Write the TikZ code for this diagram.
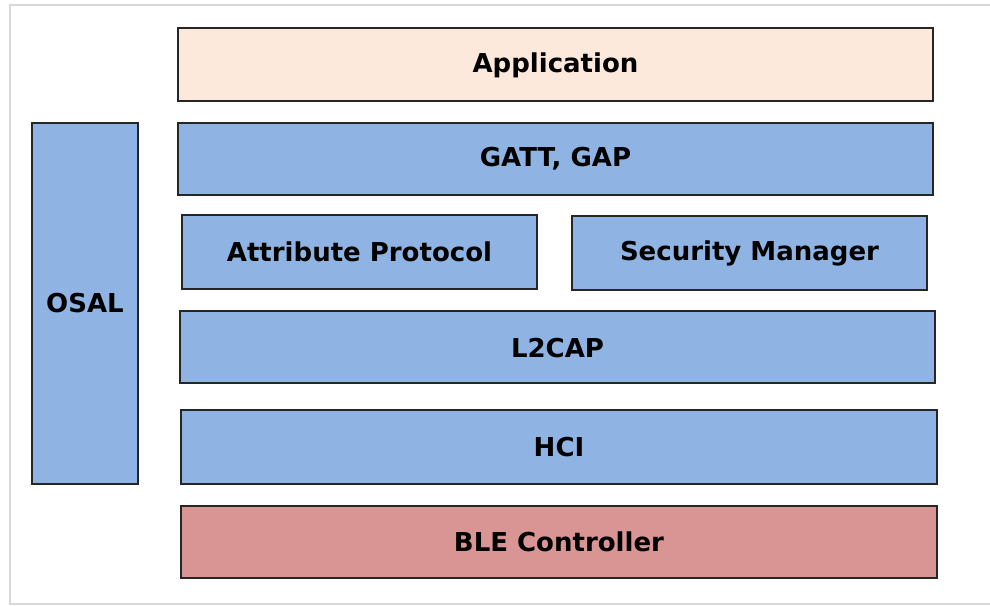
\documentclass[tikz,border=0pt]{standalone}
\usepackage{fontspec}
\setmainfont{DejaVu Sans}
\definecolor{layerblue}{HTML}{8FB4E3}
\definecolor{apppeach}{HTML}{FDE9DB}
\definecolor{ctrlred}{HTML}{D99594}
\definecolor{framegray}{HTML}{D8D8D8}
\begin{document}
\begin{tikzpicture}[x=1pt,y=-1pt,
  layer/.style={draw=black!85,line width=2.2pt,fill=layerblue},
  lbl/.style={font=\fontsize{26}{30}\selectfont\bfseries,text=black}]
\useasboundingbox (0,0) rectangle (990,605);
\fill[white] (0,0) rectangle (990,605);
% outer frame
\draw[framegray,line width=1.6pt] (10,5) rectangle (1000,604);
% stack layers
\draw[layer,fill=apppeach] (178,28) rectangle (933,101);
\node[lbl] (app) at (555.5,65) {Application};
\draw[layer] (32,123) rectangle (138,484);
\node[lbl] (osal) at (85,303) {OSAL};
\draw[layer] (178,123) rectangle (933,195);
\node[lbl] (gatt) at (555.5,159) {GATT, GAP};
\draw[layer] (182,215) rectangle (537,289);
\node[lbl] (att) at (359.5,252) {Attribute Protocol};
\draw[layer] (572,216) rectangle (927,290);
\node[lbl] (sm) at (749.5,253) {Security Manager};
\draw[layer] (180,311) rectangle (935,383);
\node[lbl] (l2cap) at (557.5,348) {L2CAP};
\draw[layer] (181,410) rectangle (937,484);
\node[lbl] (hci) at (559,447) {HCI};
\draw[layer,fill=ctrlred] (181,506) rectangle (937,578);
\node[lbl] (ble) at (559,542) {BLE Controller};
\end{tikzpicture}
\end{document}
